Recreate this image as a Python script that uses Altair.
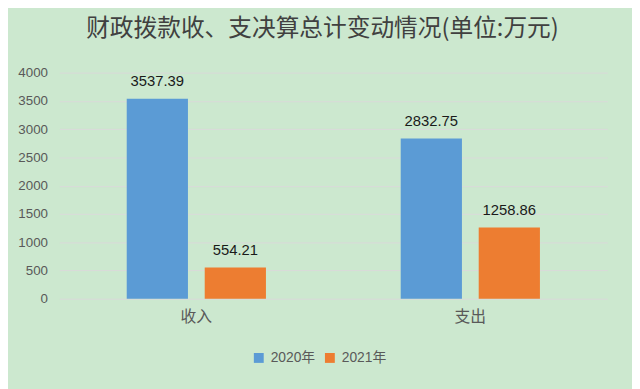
import altair as alt
import pandas as pd

categories = ["收入", "支出"]
years = ["2020年", "2021年"]
values_2020 = [3537.39, 2832.75]
values_2021 = [554.21, 1258.86]
y_ticks = [0, 500, 1000, 1500, 2000, 2500, 3000, 3500, 4000]
colors = ["#5b9bd5", "#ed7d31"]
title_text = "财政拨款收、支决算总计变动情况(单位:万元)"

rows = []
for i, c in enumerate(categories):
    rows.append({"类别": c, "年份": years[0], "值": values_2020[i]})
    rows.append({"类别": c, "年份": years[1], "值": values_2021[i]})
df = pd.DataFrame(rows)

CJK = "Noto Sans CJK SC"
LAT = "Liberation Sans, Noto Sans CJK SC"

base = alt.Chart(df).encode(
    x=alt.X(
        "类别:N",
        sort=categories,
        scale=alt.Scale(paddingInner=0, paddingOuter=0),
        axis=alt.Axis(
            title=None, domain=False, ticks=False, labelAngle=0,
            labelFont=CJK, labelFontSize=16, labelColor="#595959", labelPadding=10,
        ),
    ),
    xOffset=alt.XOffset(
        "年份:N", sort=years,
        scale=alt.Scale(paddingInner=0.215, paddingOuter=0.864),
    ),
    y=alt.Y(
        "值:Q",
        scale=alt.Scale(domain=[0, 4000], nice=False),
        axis=alt.Axis(
            title=None, domain=False, ticks=False, values=y_ticks, format="d",
            labelFont=LAT, labelFontSize=13.5, labelColor="#595959", labelPadding=12,
            grid=True, gridColor="#d9d9d9", gridWidth=1,
        ),
    ),
)

bars = base.mark_bar().encode(
    color=alt.Color(
        "年份:N", sort=years,
        scale=alt.Scale(domain=years, range=colors),
        legend=alt.Legend(
            title=None, orient="none", direction="horizontal",
            legendX=195, legendY=282,
            symbolType="square", symbolSize=100, symbolStrokeWidth=0,
            labelFont=LAT, labelFontSize=14, labelColor="#595959",
            labelOffset=5, columnPadding=7,
        ),
    )
)

labels = base.mark_text(
    baseline="alphabetic", dy=-13, font=LAT, fontSize=15, color="#1a1a1a"
).encode(text=alt.Text("值:Q", format=".2f"))

chart = (
    alt.layer(bars, labels)
    .properties(
        width=555,
        height=229,
        autosize=alt.AutoSizeParams(type="none"),
        padding={"left": 52, "top": 63, "right": 25, "bottom": 89},
        background="#cce8cf",
        title=alt.TitleParams(
            title_text, font=CJK, fontSize=24, fontWeight="normal",
            color="#404040", anchor="middle", dx=-11, offset=6,
            baseline="alphabetic",
        ),
    )
    .configure_view(stroke=None)
)

chart.save("out.html", embed_options={"renderer": "svg", "actions": False})
